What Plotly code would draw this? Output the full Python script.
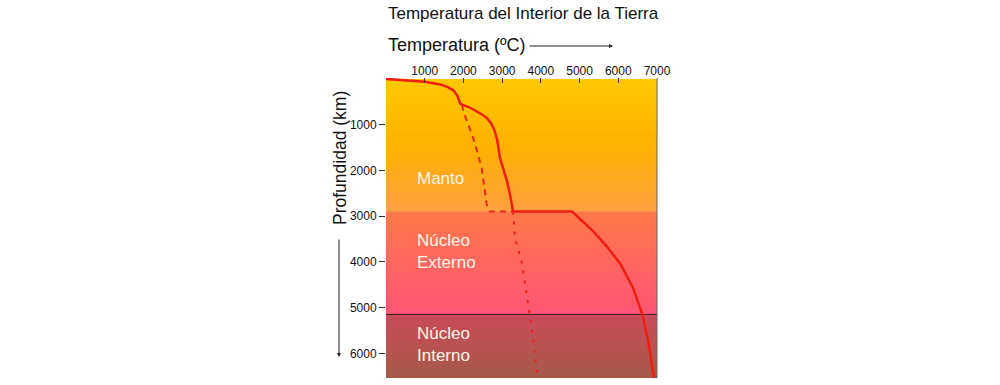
import numpy as np
import plotly.graph_objects as go

# ---------------- data ----------------
x_ticks = [1000, 2000, 3000, 4000, 5000, 6000, 7000]
y_ticks = [1000, 2000, 3000, 4000, 5000, 6000]

layer_tops = [0, 2900, 5150]
layer_bottoms = [2900, 5150, 6560]
layer_colors = [
    ["#FFC800", "#FFB200", "#FFA040"],
    ["#FF7848", "#FF6660", "#FF5676"],
    ["#CC4A5C", "#B85250", "#A45A48"],
]
layer_labels = ["Manto", "Núcleo<br>Externo", "Núcleo<br>Interno"]

# real geotherm (solid)
geo_temp = [0, 500, 1000, 1400, 1600, 1750, 1850, 1910, 1964, 2150, 2350, 2500, 2620, 2720, 2800,
            2870, 2946, 3040, 3127, 3210, 3282,
            4806, 5000, 5350, 5700, 6050, 6380, 6615, 6770, 6900, 6925]
geo_depth = [0, 25, 60, 120, 180, 260, 380, 530, 565, 620, 710, 790, 870, 980, 1120,
             1330, 1740, 1990, 2240, 2560, 2900,
             2900, 3060, 3330, 3660, 4040, 4570, 5130, 5720, 6420, 6560]

# adiabat (dashed) - mantle part and core part
adi_m_temp = [1964, 2000, 2256, 2472, 2600, 2680, 3282]
adi_m_depth = [565, 717, 1300, 1950, 2746, 2900, 2900]
adi_c_temp = [3282, 3333, 3514, 3643, 3773, 3902, 3920]
adi_c_depth = [2900, 3478, 4043, 4783, 5500, 6435, 6560]

# ---------------- figure ----------------
W, H = 1000, 385
L, R, T, B = 386, 657, 78, 378

def px(xp):
    return (xp - L) / (R - L)

def py(yp):
    return (B - yp) / (B - T)

fig = go.Figure()

for top, bot, cols in zip(layer_tops, layer_bottoms, layer_colors):
    n = 60
    edges = np.linspace(top, bot, n + 1)
    z = [[v] for v in np.linspace(0, 1, n)]
    cs = [[i / (len(cols) - 1), c] for i, c in enumerate(cols)]
    fig.add_trace(go.Heatmap(x=[0, 7000], y=edges, z=z, colorscale=cs, zmin=0, zmax=1,
                             showscale=False, hoverinfo="skip"))

# boundary line between outer and inner core
fig.add_trace(go.Scatter(x=[0, 7000], y=[layer_tops[2], layer_tops[2]], mode="lines",
                         line=dict(color="#3a1a1a", width=1), showlegend=False, hoverinfo="skip"))

fig.add_trace(go.Scatter(x=adi_m_temp, y=adi_m_depth, mode="lines",
                         line=dict(color="#E8281A", width=2, dash="6px,5px"), showlegend=False))
fig.add_trace(go.Scatter(x=adi_c_temp, y=adi_c_depth, mode="lines",
                         line=dict(color="#F02018", width=2, dash="3px,7px"), showlegend=False))
fig.add_trace(go.Scatter(x=geo_temp, y=geo_depth, mode="lines",
                         line=dict(color="#F01E10", width=2.5),
                         showlegend=False))

font_main = "Liberation Sans, Arial, sans-serif"

annotations = [
    dict(text="Temperatura del Interior de la Tierra", x=px(523), y=py(13), xref="paper", yref="paper",
         showarrow=False, xanchor="center", yanchor="middle",
         font=dict(family=font_main, size=17, color="#111")),
    dict(text="Temperatura (ºC)", x=px(386), y=py(45), xref="paper", yref="paper",
         showarrow=False, xanchor="left", yanchor="middle",
         font=dict(family=font_main, size=18, color="#111")),
    dict(text="", x=px(613), y=py(46), xref="paper", yref="paper", ax=-85, ay=0,
         showarrow=True, arrowhead=2, arrowsize=0.8, arrowwidth=1, arrowcolor="#222"),
    dict(text="Profundidad (km)", x=px(340), y=py(158), xref="paper", yref="paper",
         showarrow=False, textangle=-90, xanchor="center", yanchor="middle",
         font=dict(family=font_main, size=17.5, color="#111")),
    dict(text="", x=px(339), y=py(357), xref="paper", yref="paper", ax=0, ay=-119,
         showarrow=True, arrowhead=2, arrowsize=0.8, arrowwidth=1, arrowcolor="#222"),
]
label_pos = [178, 251, 344]
for lab, yp in zip(layer_labels, label_pos):
    annotations.append(dict(text=lab, x=px(415), y=py(yp), xref="paper", yref="paper",
                            showarrow=False, xanchor="left", yanchor="middle", align="left",
                            font=dict(family=font_main, size=17, color="#FFF6EA")))

fig.update_layout(
    width=W, height=H,
    margin=dict(l=L, r=W - R, t=T, b=H - B),
    paper_bgcolor="white", plot_bgcolor="white",
    annotations=annotations,
    shapes=[dict(type="line", xref="paper", yref="paper", x0=1, x1=1, y0=0, y1=1,
                 line=dict(color="#666", width=1))],
    xaxis=dict(range=[0, 7000], side="top", tickvals=x_ticks, ticktext=[str(v) for v in x_ticks],
               ticks="inside", ticklen=5, tickcolor="#333", showgrid=False, zeroline=False,
               showline=False, automargin=False,
               tickfont=dict(family=font_main, size=12, color="#111")),
    yaxis=dict(range=[6540, -20], tickvals=y_ticks, ticktext=[str(v) for v in y_ticks],
               ticks="outside", ticklen=6, tickcolor="#333", showgrid=False, zeroline=False,
               showline=False, automargin=False,
               tickfont=dict(family=font_main, size=12, color="#111")),
)

fig.write_html("out.html", config={"displayModeBar": False},
               post_script="document.body.style.margin='0px';document.body.style.overflow='hidden';")
